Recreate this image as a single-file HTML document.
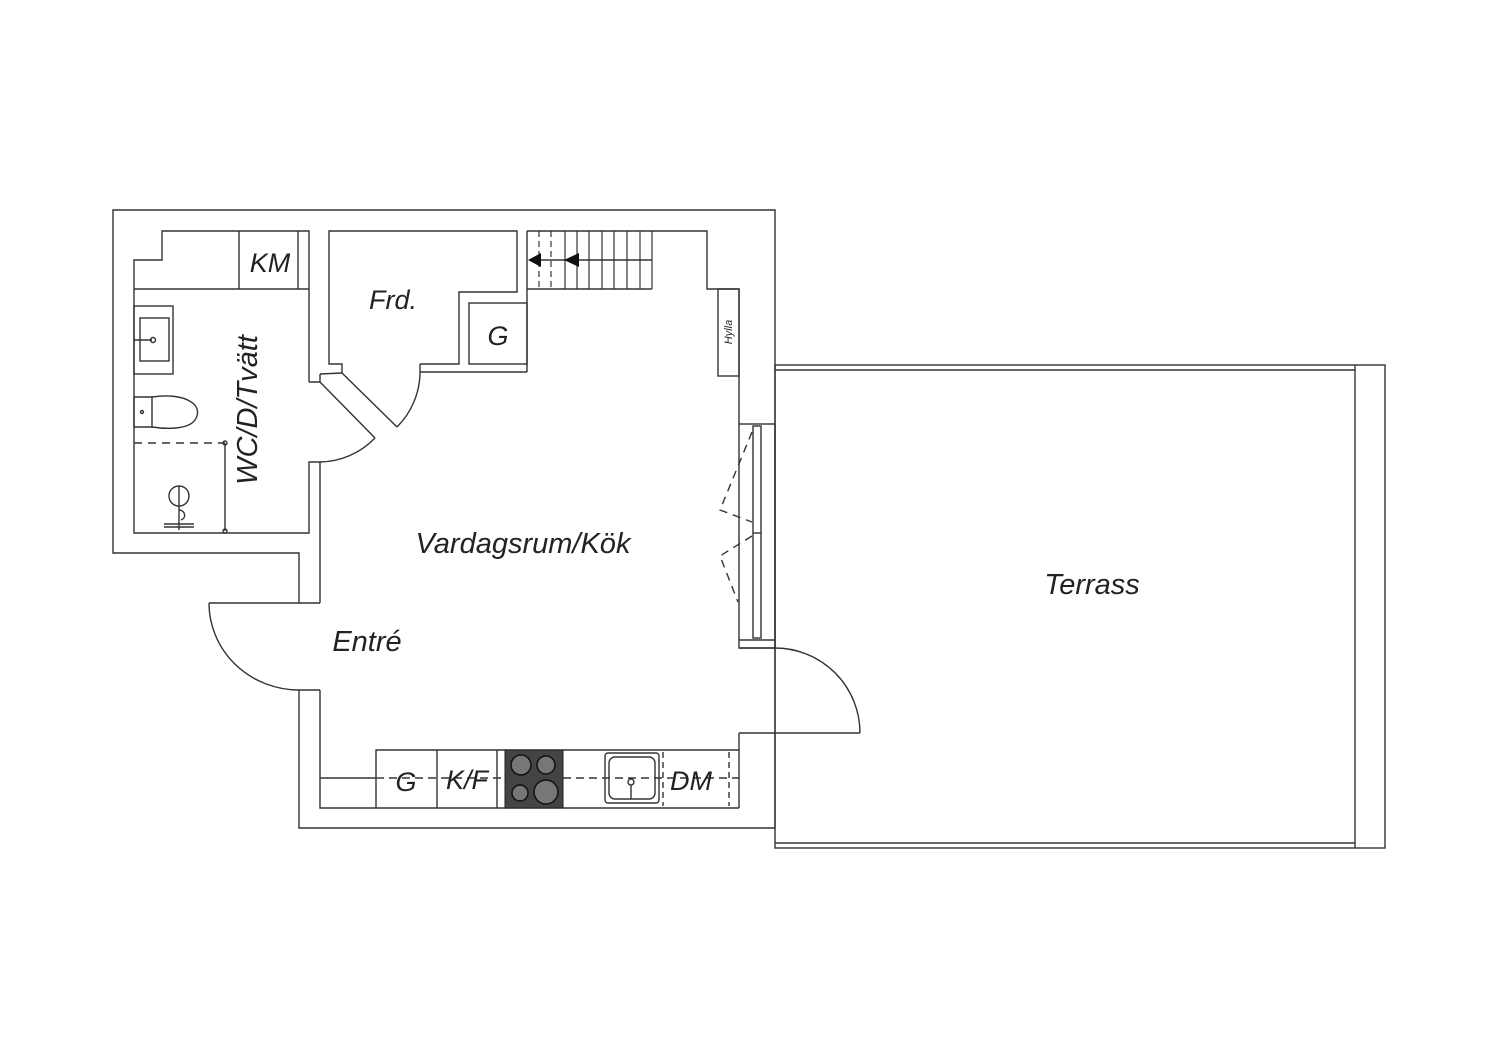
<!DOCTYPE html>
<html><head><meta charset="utf-8"><style>
html,body{margin:0;padding:0;background:#fff;}
svg{display:block;}
text{font-family:"Liberation Sans",sans-serif;font-style:italic;fill:#222;}
</style></head><body>
<svg width="1500" height="1060" viewBox="0 0 1500 1060" xmlns="http://www.w3.org/2000/svg">
<g fill="none" stroke="#333" stroke-width="1.4">
<!-- outer wall -->
<polyline points="299,603 299,553 113,553 113,210 775,210 775,828 299,828 299,690"/>
<!-- terrace -->
<rect x="775" y="365" width="610" height="483"/>
<line x1="775" y1="370" x2="1355" y2="370"/>
<line x1="775" y1="843" x2="1355" y2="843"/>
<line x1="1355" y1="365" x2="1355" y2="848"/>
<!-- WC room -->
<polyline points="309,382 309,231 162,231 162,260 134,260 134,533 309,533 309,462 320,462 320,603"/>
<polyline points="309,382 320,382 320,374"/>
<line x1="134" y1="289" x2="309" y2="289"/>
<line x1="239" y1="231" x2="239" y2="289"/>
<line x1="298" y1="231" x2="298" y2="289"/>
<!-- sink -->
<rect x="134" y="306" width="39" height="68"/>
<rect x="140" y="318" width="29" height="43"/>
<line x1="134" y1="340" x2="152" y2="340"/>
<circle cx="153" cy="340" r="2.5"/>
<!-- toilet -->
<path d="M134,397 h18 v30 h-18 z"/>
<path d="M152,397 C185,392 205,405 195,420 C188,430 165,429 152,427"/>
<circle cx="142" cy="412" r="1.5"/>
<!-- shower -->
<line x1="134" y1="443" x2="225" y2="443" stroke-dasharray="8,6"/>
<line x1="225" y1="443" x2="225" y2="531"/>
<circle cx="225" cy="443" r="2"/><circle cx="225" cy="531" r="2"/>
<circle cx="179" cy="496" r="10"/>
<line x1="179" y1="486" x2="179" y2="530"/>
<path d="M179,510 c6,0 8,8 2,10"/>
<line x1="164" y1="524" x2="194" y2="524"/>
<line x1="164" y1="527" x2="194" y2="527"/>
<!-- Frd -->
<polyline points="342,373 342,364 329,364 329,231 517,231 517,292 459,292 459,364 420,364"/>
<line x1="420" y1="372" x2="527" y2="372"/>
<line x1="420" y1="364" x2="420" y2="372"/>
<rect x="469" y="303" width="58" height="61"/>
<line x1="527" y1="231" x2="527" y2="372"/>
<!-- diagonal door wall -->
<line x1="320" y1="374" x2="342" y2="373"/>
<line x1="320" y1="382" x2="375" y2="438"/>
<line x1="342" y1="373" x2="397" y2="427"/>
<path d="M375,438 A78,78 0 0 1 320,462"/>
<path d="M397,427 A78,78 0 0 0 420,372"/>
<!-- stairs -->
<polyline points="527,231 707,231 707,289 739,289 739,424"/>
<line x1="527" y1="289" x2="652" y2="289"/>
<g stroke-width="1.2">
<line x1="539" y1="231" x2="539" y2="289" stroke-dasharray="6,4"/>
<line x1="551" y1="231" x2="551" y2="289" stroke-dasharray="6,4"/>
<line x1="565" y1="231" x2="565" y2="289"/><line x1="577" y1="231" x2="577" y2="289"/>
<line x1="589" y1="231" x2="589" y2="289"/><line x1="602" y1="231" x2="602" y2="289"/>
<line x1="614" y1="231" x2="614" y2="289"/><line x1="627" y1="231" x2="627" y2="289"/>
<line x1="640" y1="231" x2="640" y2="289"/><line x1="652" y1="231" x2="652" y2="289"/>
</g>
<line x1="540" y1="260" x2="652" y2="260"/>
<!-- hylla -->
<rect x="718" y="289" width="21" height="87"/>
<!-- window -->
<rect x="739" y="424" width="36" height="224"/>
<rect x="753" y="426" width="8" height="212"/>
<line x1="753" y1="533" x2="761" y2="533"/>
<line x1="739" y1="640" x2="775" y2="640"/>
<polyline points="752,432 720,510 752,522" stroke-dasharray="8,6"/>
<polyline points="752,536 720,556 738,602" stroke-dasharray="8,6"/>
<!-- right door -->
<line x1="739" y1="648" x2="775" y2="648"/>
<path d="M775,648 A85,85 0 0 1 860,733"/>
<line x1="739" y1="733" x2="860" y2="733"/>
<line x1="739" y1="733" x2="739" y2="808"/>
<!-- inner bottom -->
<polyline points="320,690 320,808 739,808"/>
<!-- left door -->
<line x1="299" y1="603" x2="320" y2="603"/>
<line x1="209" y1="603" x2="299" y2="603"/>
<line x1="299" y1="690" x2="320" y2="690"/>
<path d="M209,603 A90,87 0 0 0 299,690"/>
<!-- kitchen -->
<polyline points="376,808 376,750 739,750"/>
<line x1="320" y1="778" x2="376" y2="778"/>
<line x1="437" y1="750" x2="437" y2="808"/>
<line x1="497" y1="750" x2="497" y2="808"/>
<line x1="376" y1="778" x2="505" y2="778" stroke-dasharray="8,5"/>
<line x1="563" y1="778" x2="739" y2="778" stroke-dasharray="8,5"/>
<rect x="605" y="753" width="54" height="50" rx="3"/>
<rect x="609" y="757" width="46" height="42" rx="6"/>
<circle cx="631" cy="782" r="3"/>
<line x1="631" y1="785" x2="631" y2="799"/>
<line x1="663" y1="752" x2="663" y2="806" stroke-dasharray="6,4"/>
<line x1="729" y1="752" x2="729" y2="806" stroke-dasharray="6,4"/>
</g>
<!-- arrows -->
<polygon points="528,260 541,253 541,267" fill="#111"/>
<polygon points="564,260 579,253 579,267" fill="#111"/>
<!-- stove -->
<rect x="505" y="750" width="58" height="58" fill="#444" stroke="#222"/>
<g fill="#777" stroke="#111" stroke-width="1.5">
<circle cx="521" cy="765" r="10"/><circle cx="546" cy="765" r="9"/>
<circle cx="520" cy="793" r="8"/><circle cx="546" cy="792" r="12"/>
</g>
<!-- labels -->
<text x="523" y="553" font-size="29" text-anchor="middle">Vardagsrum/Kök</text>
<text x="1092" y="594" font-size="29" text-anchor="middle">Terrass</text>
<text x="367" y="651" font-size="29" text-anchor="middle">Entré</text>
<text x="393" y="309" font-size="27" text-anchor="middle">Frd.</text>
<text x="498" y="345" font-size="27" text-anchor="middle">G</text>
<text x="270" y="272" font-size="27" text-anchor="middle">KM</text>
<text x="406" y="791" font-size="27" text-anchor="middle">G</text>
<text x="467" y="789" font-size="27" text-anchor="middle">K/F</text>
<text x="691" y="790" font-size="27" text-anchor="middle">DM</text>
<text transform="translate(257,410) rotate(-90)" font-size="29" text-anchor="middle">WC/D/Tvätt</text>
<text transform="translate(732,332) rotate(-90)" font-size="11" text-anchor="middle">Hylla</text>
</svg>
</body></html>
